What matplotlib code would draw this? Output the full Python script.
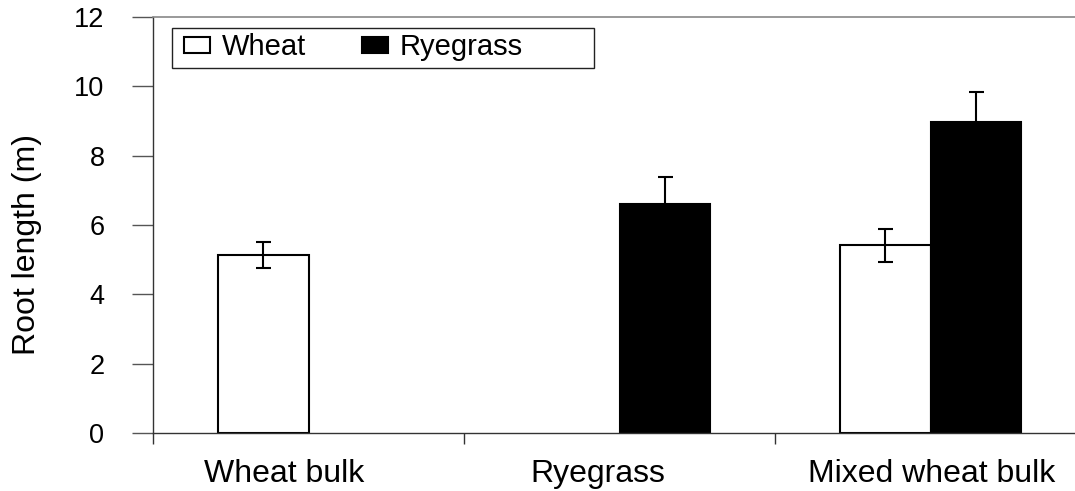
import numpy as np
import matplotlib
matplotlib.use("Agg")
import matplotlib.pyplot as plt
from matplotlib.patches import Rectangle

categories = ["Wheat bulk", "Ryegrass", "Mixed wheat bulk"]
series_names = ["Wheat", "Ryegrass"]
wheat = [5.14, np.nan, 5.42]
wheat_err = [0.37, 0.0, 0.475]
rye = [np.nan, 6.60, 8.97]
rye_err = [0.0, 0.79, 0.87]
yticks = [0, 2, 4, 6, 8, 10, 12]
ylabel = "Root length (m)"

plt.rcParams['font.family'] = ['Liberation Sans', 'DejaVu Sans']

fig = plt.figure(figsize=(10.75, 4.91), dpi=100)
ax = fig.add_axes([153/1075, 58/491, 922/1075, 416/491])

x = np.arange(len(categories))
w = 0.29
label_offsets = [-0.079, -0.069, 0.005]

ax.bar(x - w/2, wheat, width=w, color='white', edgecolor='black', linewidth=1.5,
       label=series_names[0], zorder=2)
ax.bar(x + w/2, rye, width=w, color='black', edgecolor='black', linewidth=1.5,
       label=series_names[1], zorder=2)
ax.errorbar(x - w/2, wheat, yerr=wheat_err, fmt='none', ecolor='black',
            elinewidth=1.5, capsize=5.4, capthick=1.5, zorder=3)
ax.errorbar(x + w/2, rye, yerr=rye_err, fmt='none', ecolor='black',
            elinewidth=1.5, capsize=5.4, capthick=1.5, zorder=3)

ax.set_xlim(-0.5, -0.5 + 922/311)
ax.set_ylim(0, 12)
ax.set_yticks(yticks)
ax.set_yticklabels([str(t) for t in yticks], fontsize=19.5)
ax.tick_params(axis='y', direction='out', length=15, width=1, color='#555555', pad=20)

# category labels (no tick marks) and boundary ticks as minor
ax.set_xticks(x + np.array(label_offsets))
ax.set_xticklabels(categories, fontsize=23)
ax.tick_params(axis='x', which='major', length=0, pad=19)
ax.set_xticks(np.arange(len(categories)) - 0.5, minor=True)
ax.tick_params(axis='x', which='minor', direction='out', length=8, width=1, color='#333333')

ax.spines['right'].set_visible(False)
ax.spines['top'].set_color('#888888')
ax.spines['top'].set_linewidth(1.2)
ax.spines['left'].set_color('#333333')
ax.spines['bottom'].set_color('#333333')
ax.spines['left'].set_linewidth(1.0)
ax.spines['bottom'].set_linewidth(1.0)

ax.set_ylabel(ylabel, fontsize=23)
ax.yaxis.set_label_coords(-0.12, 0.452)

leg = ax.legend(loc='upper left', bbox_to_anchor=((186 - 153)/922 - 0.002, (433 - 33)/416),
                ncol=2, frameon=False, fontsize=21, handlelength=0.9, handleheight=0.48,
                handletextpad=0.4, columnspacing=1.9, borderpad=0.0, borderaxespad=0.0)
ax.add_patch(Rectangle(((172 - 153)/922, (433 - 68)/416), (594 - 172)/922, 40/416,
                       transform=ax.transAxes, fill=False, edgecolor='#222222',
                       linewidth=1.0, clip_on=False, zorder=5))

fig.savefig("out.png", dpi=100)
